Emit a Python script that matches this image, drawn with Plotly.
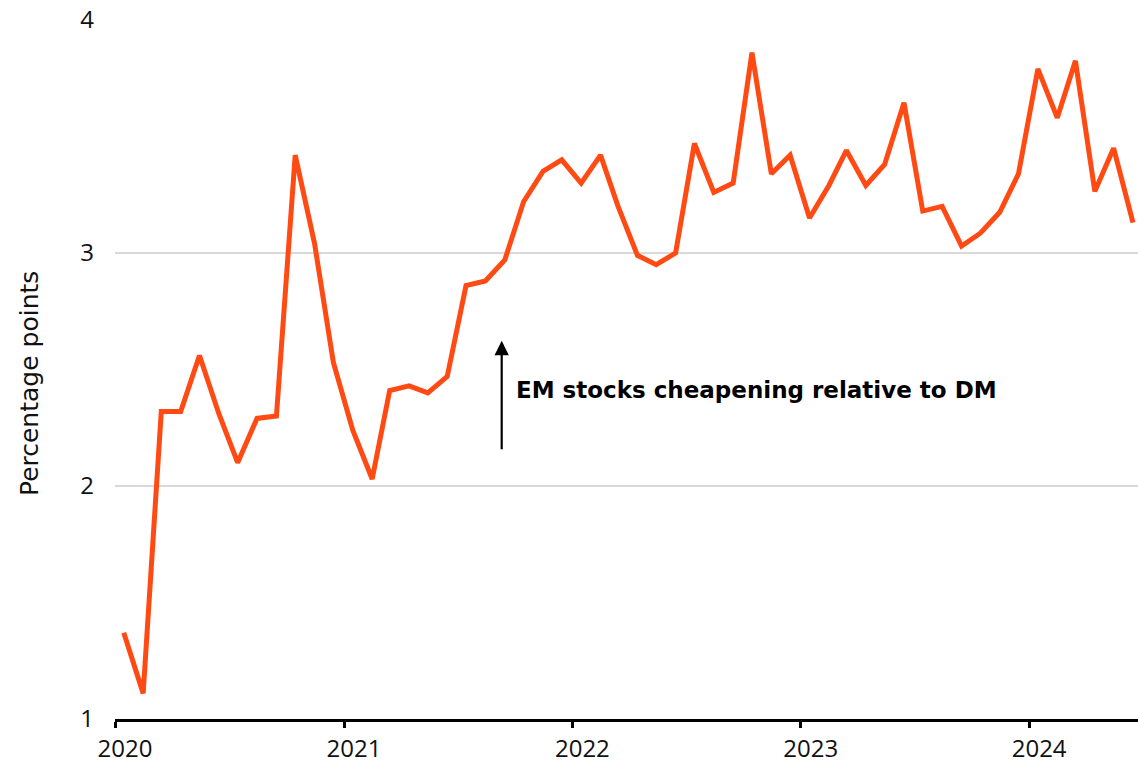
import plotly.graph_objects as go

# Monthly spread, Jan 2020 – Jun 2024 (percentage points)
months = [f"{y}-{m:02d}-15" for y in range(2020, 2025) for m in range(1, 13)][:54]
spread = [
    1.37, 1.11, 2.32, 2.32, 2.56, 2.31, 2.10, 2.29, 2.30, 3.42, 3.04, 2.53,
    2.24, 2.03, 2.41, 2.43, 2.40, 2.47, 2.86, 2.88, 2.97, 3.22, 3.35, 3.40,
    3.30, 3.42, 3.20, 2.99, 2.95, 3.00, 3.47, 3.26, 3.30, 3.86, 3.34, 3.42,
    3.15, 3.29, 3.44, 3.29, 3.38, 3.645, 3.18, 3.20, 3.03, 3.085, 3.175, 3.34,
    3.79, 3.58, 3.825, 3.265, 3.45, 3.13,
]

year_ticks = ["2020-01-01", "2021-01-01", "2022-01-01", "2023-01-01", "2024-01-01"]
year_labels = ["2020", "2021", "2022", "2023", "2024"]
y_ticks = [1, 2, 3, 4]

LINE = "#FF4A14"
FONT = "DejaVu Sans"
TICK_FONT = "Open Sans"

fig = go.Figure()
fig.add_trace(go.Scatter(
    x=months, y=spread, mode="lines",
    line=dict(color=LINE, width=5, shape="linear"),
    hoverinfo="skip",
))

fig.update_layout(
    width=1138, height=764,
    margin=dict(l=115, r=0, t=20, b=42),
    paper_bgcolor="white", plot_bgcolor="white",
    showlegend=False,
    font=dict(family=TICK_FONT, color="#111111", size=24),
    xaxis=dict(
        type="date",
        range=["2020-01-01", "2024-06-23"],
        tickvals=year_ticks, ticktext=year_labels,
        ticks="outside", ticklen=6, tickwidth=3, tickcolor="#000000",
        ticklabelshift=10,
        showline=True, linecolor="#000000", linewidth=3,
        showgrid=False, zeroline=False,
        tickfont=dict(size=24, family=TICK_FONT, color="#111111"),
    ),
    yaxis=dict(
        range=[1, 4],
        tickvals=y_ticks, ticktext=[str(v) for v in y_ticks],
        ticks="", ticklabelstandoff=20,
        showgrid=True, gridcolor="#d9d9d9", gridwidth=2,
        showline=False, zeroline=False,
        tickfont=dict(size=24, family=TICK_FONT, color="#111111"),
    ),
)

# Axis title, set apart from the plot area
fig.add_annotation(
    text="Percentage points", textangle=-90,
    xref="paper", yref="paper", x=-0.0835, y=0.48,
    xanchor="center", yanchor="middle", showarrow=False,
    font=dict(size=25, family=FONT, color="#111111"),
)

# Direction arrow and its caption
fig.add_annotation(
    xref="paper", yref="paper", x=0.378, y=0.541,
    ax=0, ay=110,
    text="", showarrow=True,
    arrowhead=2, arrowsize=1.3, arrowwidth=2.2, arrowcolor="#000000",
)
fig.add_annotation(
    text="<b>EM stocks cheapening relative to DM</b>",
    xref="paper", yref="paper", x=0.3897, y=0.470,
    xanchor="left", yanchor="middle", showarrow=False,
    font=dict(size=23, family=FONT, color="#000000"),
)

fig.write_html("out.html")
